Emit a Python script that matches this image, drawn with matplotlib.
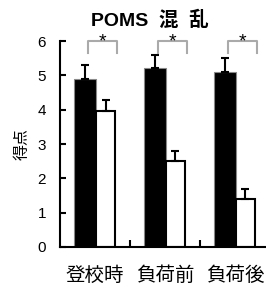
import numpy as np
import matplotlib.pyplot as plt

plt.rcParams['font.family'] = ['Liberation Sans', 'Noto Sans CJK JP', 'DejaVu Sans']

categories = ['登校時', '負荷前', '負荷後']
black_vals = [4.9, 5.2, 5.1]
black_err = [0.4, 0.38, 0.4]
white_vals = [3.95, 2.5, 1.4]
white_err = [0.33, 0.3, 0.3]

fig = plt.figure(figsize=(2.66, 2.89), dpi=100)
ax = fig.add_axes([60/266, 42/289, 206/266, 206/289])

x = np.arange(len(categories))
ax.bar(x + 0.357, black_vals, width=0.314, color='black', edgecolor='#888888', linewidth=0.8,
       yerr=[np.zeros(3), black_err], error_kw=dict(ecolor='black', elinewidth=1.5, capsize=3, capthick=1.5))
ax.bar(x + 0.65, white_vals, width=0.272, color='white', edgecolor='black', linewidth=1.5,
       yerr=[np.zeros(3), white_err], error_kw=dict(ecolor='black', elinewidth=1.5, capsize=3, capthick=1.5))

# significance brackets
for i in range(3):
    x0, x1 = i + 0.4, i + 0.82
    ax.plot([x0, x0, x1, x1], [5.65, 6.0, 6.0, 5.65], color='#aaaaaa', lw=1.5, clip_on=False)
    ax.text((x0 + x1) / 2, 5.97, '*', ha='center', va='center', fontsize=14, clip_on=False)

ax.set_xlim(0, 206/70)
ax.set_ylim(0, 6)
ax.set_yticks(range(7))
ax.set_xticks([1, 2])
ax.set_xticklabels([])
ax.set_xticks(x + 0.5, minor=True)
ax.set_xticklabels(categories, minor=True, fontsize=14, family=['Noto Sans CJK JP'])
ax.tick_params(axis='x', which='minor', length=0, pad=13)
ax.tick_params(axis='x', which='major', direction='in', length=5, width=1.5)
ax.tick_params(axis='y', direction='in', length=4, width=1.5, labelsize=11, pad=10)
for s in ['top', 'right']:
    ax.spines[s].set_visible(False)
ax.spines['left'].set_linewidth(1.5)
ax.spines['bottom'].set_linewidth(1.5)

ax.set_ylabel('得点', fontsize=11.5, family=['Noto Sans CJK JP'], labelpad=5)
fig.text(0.564, 0.93, 'POMS  混  乱', ha='center', va='center', fontsize=14, fontweight='bold',
         family=['Liberation Sans', 'Noto Sans CJK JP'])

plt.savefig('out.png', dpi=100)
